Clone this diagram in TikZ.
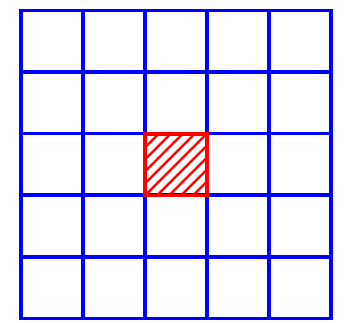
\documentclass[tikz,border=0pt]{standalone}
\begin{document}
\begin{tikzpicture}[x=1pt,y=-1pt,
  gridline/.style={draw=blue,line width=3.6pt,line cap=rect},
  hatchline/.style={draw=red,line width=2.2pt},
  cellframe/.style={draw=red,line width=3.4pt}]
\useasboundingbox (0,0) rectangle (354,323);
\foreach \i in {0,...,5}{
  \draw[gridline] ({21+62*\i},10.5) -- ({21+62*\i},318.5);
  \draw[gridline] (21,{10.5+61.6*\i}) -- (331,{10.5+61.6*\i});
}
\begin{scope}
  \clip (145,134) rectangle (207,195.5);
  \foreach \d in {-72,-60,...,72}{
    \draw[hatchline] ({145+\d},195.5) -- ({207+\d},133.5);
  }
\end{scope}
\draw[cellframe] (145,134) rectangle (207,195.5);
\end{tikzpicture}
\end{document}
